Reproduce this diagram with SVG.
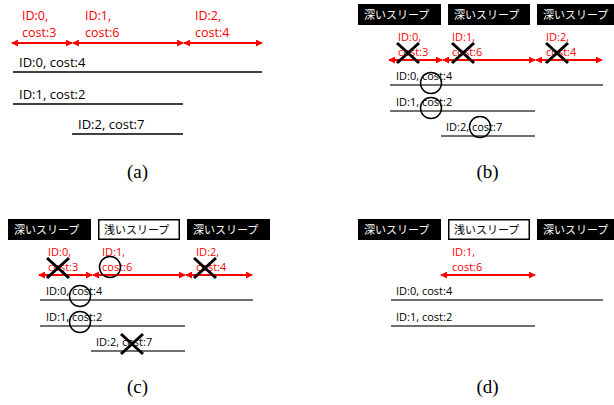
<svg xmlns="http://www.w3.org/2000/svg" width="614" height="405" viewBox="0 0 614 405">
<style>
.red{font-family:"Open Sans","Noto Sans",sans-serif;fill:#ff0000}
.txt{font-family:"Open Sans","Noto Sans",sans-serif;fill:#000}
.a{font-size:13px}
.ra{font-size:12.5px}
.b{font-size:11px}
.jp{font-family:"Noto Sans CJK JP",sans-serif;font-size:11px}
.arr{stroke:#ff0000;stroke-width:2;fill:none;marker-start:url(#ah);marker-end:url(#ah)}
.bar{stroke:#404040;stroke-width:2}
.bar2{stroke:#404040;stroke-width:1.6}
.xm{stroke:#000;stroke-width:3;fill:none}
.ci{fill:none;stroke:#000;stroke-width:1.5}
.cap{font-family:"Liberation Serif","DejaVu Serif",serif;font-size:19px;text-anchor:middle;fill:#000}
</style>
<defs>
<marker id="ah" viewBox="0 0 8 8" refX="7" refY="4" markerWidth="7" markerHeight="7" markerUnits="userSpaceOnUse" orient="auto-start-reverse">
<path d="M0,0 L8,4 L0,8 z" fill="#ff0000"/>
</marker>
<path id="x" class="xm" d="M-11,-10 L11,10 M-11,10 L11,-10"/>
</defs>

<!-- Panel (a) -->
<g id="panel-a">
  <g id="a-connectors">
    <line class="arr" x1="12" y1="43" x2="72" y2="43"/>
    <line class="arr" x1="73" y1="43" x2="183" y2="43"/>
    <line class="arr" x1="184" y1="43" x2="262" y2="43"/>
  </g>
  <g id="a-seg0"><text class="red ra" x="22" y="20">ID:0,</text><text class="red ra" x="22" y="37">cost:3</text></g>
  <g id="a-seg1"><text class="red ra" x="85" y="20">ID:1,</text><text class="red ra" x="85" y="37">cost:6</text></g>
  <g id="a-seg2"><text class="red ra" x="195" y="20">ID:2,</text><text class="red ra" x="195" y="37">cost:4</text></g>
  <g id="a-task0"><text class="txt a" x="19" y="67">ID:0, cost:4</text><line class="bar" x1="13" y1="72" x2="262" y2="72"/></g>
  <g id="a-task1"><text class="txt a" x="19" y="99">ID:1, cost:2</text><line class="bar" x1="13" y1="104" x2="183" y2="104"/></g>
  <g id="a-task2"><text class="txt a" x="78" y="129">ID:2, cost:7</text><line class="bar" x1="72" y1="134" x2="183" y2="134"/></g>
  <text class="cap" x="137.5" y="178">(a)</text>
</g>

<!-- Panel (b) -->
<g id="panel-b">
  <g id="b-sleep0"><rect x="358" y="4" width="83" height="21" fill="#000"/><text class="jp" x="364" y="19" fill="#fff">深いスリープ</text></g>
  <g id="b-sleep1"><rect x="448" y="4" width="82" height="21" fill="#000"/><text class="jp" x="454" y="19" fill="#fff">深いスリープ</text></g>
  <g id="b-sleep2"><rect x="537" y="4" width="83" height="21" fill="#000"/><text class="jp" x="543" y="19" fill="#fff">深いスリープ</text></g>
  <g id="b-connectors">
    <line class="arr" x1="389" y1="60" x2="442" y2="60"/>
    <line class="arr" x1="443" y1="60" x2="535" y2="60"/>
    <line class="arr" x1="536" y1="60" x2="602" y2="60"/>
  </g>
  <g id="b-seg0"><text class="red b" x="398" y="41">ID:0,</text><text class="red b" x="398" y="56">cost:3</text></g>
  <g id="b-seg1"><text class="red b" x="452" y="41">ID:1,</text><text class="red b" x="452" y="56">cost:6</text></g>
  <g id="b-seg2"><text class="red b" x="546" y="41">ID:2,</text><text class="red b" x="546" y="56">cost:4</text></g>
  <g id="b-task0"><text class="txt b" x="396" y="80">ID:0, cost:4</text><line class="bar2" x1="390" y1="85" x2="603" y2="85"/></g>
  <g id="b-task1"><text class="txt b" x="396" y="106">ID:1, cost:2</text><line class="bar2" x1="390" y1="111" x2="535" y2="111"/></g>
  <g id="b-task2"><text class="txt b" x="446" y="131">ID:2, cost:7</text><line class="bar2" x1="441" y1="136" x2="535" y2="136"/></g>
  <g id="b-marks">
    <use href="#x" x="408" y="53"/>
    <use href="#x" x="463" y="53"/>
    <use href="#x" x="557" y="53"/>
    <circle class="ci" cx="431" cy="83" r="10.5"/>
    <circle class="ci" cx="431" cy="108" r="10.5"/>
    <circle class="ci" cx="480" cy="127" r="10.5"/>
  </g>
  <text class="cap" x="487.5" y="178">(b)</text>
</g>

<!-- Panel (c) -->
<g id="panel-c" transform="translate(-350,215)">
  <g id="c-sleep0"><rect x="358" y="4" width="83" height="21" fill="#000"/><text class="jp" x="364" y="19" fill="#fff">深いスリープ</text></g>
  <g id="c-sleep1"><rect x="448.75" y="4.75" width="80.5" height="19.5" fill="#fff" stroke="#000" stroke-width="1.5"/><text class="jp" x="454" y="19" fill="#000">浅いスリープ</text></g>
  <g id="c-sleep2"><rect x="537" y="4" width="83" height="21" fill="#000"/><text class="jp" x="543" y="19" fill="#fff">深いスリープ</text></g>
  <g id="c-connectors">
    <line class="arr" x1="389" y1="60" x2="442" y2="60"/>
    <line class="arr" x1="443" y1="60" x2="535" y2="60"/>
    <line class="arr" x1="536" y1="60" x2="602" y2="60"/>
  </g>
  <g id="c-seg0"><text class="red b" x="398" y="41">ID:0,</text><text class="red b" x="398" y="56">cost:3</text></g>
  <g id="c-seg1"><text class="red b" x="452" y="41">ID:1,</text><text class="red b" x="452" y="56">cost:6</text></g>
  <g id="c-seg2"><text class="red b" x="546" y="41">ID:2,</text><text class="red b" x="546" y="56">cost:4</text></g>
  <g id="c-task0"><text class="txt b" x="396" y="80">ID:0, cost:4</text><line class="bar2" x1="390" y1="85" x2="603" y2="85"/></g>
  <g id="c-task1"><text class="txt b" x="396" y="106">ID:1, cost:2</text><line class="bar2" x1="390" y1="111" x2="535" y2="111"/></g>
  <g id="c-task2"><text class="txt b" x="446" y="131">ID:2, cost:7</text><line class="bar2" x1="441" y1="136" x2="535" y2="136"/></g>
  <g id="c-marks">
    <use href="#x" x="408" y="53"/>
    <circle class="ci" cx="460" cy="52" r="10.5"/>
    <use href="#x" x="555" y="53"/>
    <circle class="ci" cx="430" cy="81" r="10.5"/>
    <circle class="ci" cx="430" cy="107" r="10.5"/>
    <use href="#x" x="482" y="129"/>
  </g>
  <text class="cap" x="487.5" y="178">(c)</text>
</g>

<!-- Panel (d) -->
<g id="panel-d" transform="translate(0,215)">
  <g id="d-sleep0"><rect x="358" y="4" width="83" height="21" fill="#000"/><text class="jp" x="364" y="19" fill="#fff">深いスリープ</text></g>
  <g id="d-sleep1"><rect x="448.75" y="4.75" width="80.5" height="19.5" fill="#fff" stroke="#000" stroke-width="1.5"/><text class="jp" x="454" y="19" fill="#000">浅いスリープ</text></g>
  <g id="d-sleep2"><rect x="537" y="4" width="83" height="21" fill="#000"/><text class="jp" x="543" y="19" fill="#fff">深いスリープ</text></g>
  <g id="d-connectors">
    <line class="arr" x1="441" y1="60" x2="535" y2="60"/>
  </g>
  <g id="d-seg1"><text class="red b" x="452" y="41">ID:1,</text><text class="red b" x="452" y="56">cost:6</text></g>
  <g id="d-task0"><text class="txt b" x="396" y="80">ID:0, cost:4</text><line class="bar2" x1="391" y1="85" x2="603" y2="85"/></g>
  <g id="d-task1"><text class="txt b" x="396" y="106">ID:1, cost:2</text><line class="bar2" x1="391" y1="111" x2="535" y2="111"/></g>
  <text class="cap" x="487.5" y="178">(d)</text>
</g>
</svg>
